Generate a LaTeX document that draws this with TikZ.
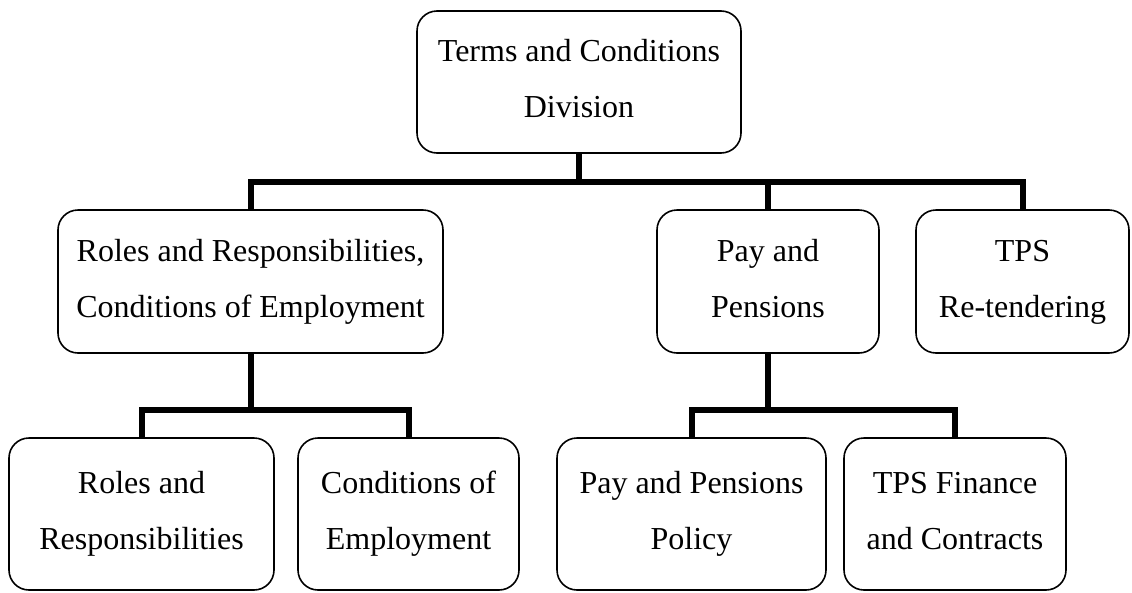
\documentclass[tikz,border=0pt]{standalone}
\usepackage{fontspec}
\setmainfont{Liberation Serif}
\usetikzlibrary{calc}

\begin{document}
\begin{tikzpicture}[x=1pt,y=-1pt,
  unit/.style={draw,rounded corners=20pt,line width=1.6pt,inner sep=0pt,align=center,
    text height=78pt,text depth=7pt,font=\fontsize{32}{56}\selectfont},
  link/.style={line width=6pt}]
\useasboundingbox (0,0) rectangle (1132,592);
% top
\node[unit,minimum width=324,minimum height=142] (T) at (579,82) {Terms and Conditions\\Division};
% second row
\node[unit,minimum width=385,minimum height=143] (A) at (250.5,281.5) {Roles and Responsibilities,\\Conditions of Employment};
\node[unit,minimum width=222,minimum height=143] (B) at (768,281.5) {Pay and\\Pensions};
\node[unit,minimum width=213,minimum height=143] (C) at (1022.5,281.5) {TPS\\Re-tendering};
% third row
\node[unit,minimum width=265,minimum height=152] (D1) at (141.5,514) {Roles and\\Responsibilities};
\node[unit,minimum width=221,minimum height=152] (D2) at (408.5,514) {Conditions of\\Employment};
\node[unit,minimum width=269,minimum height=152] (D3) at (691.5,514) {Pay and Pensions\\Policy};
\node[unit,minimum width=222,minimum height=152] (D4) at (955,514) {TPS Finance\\and Contracts};
\coordinate (bus1) at (579,182);
\coordinate (bus2) at (250.5,410);
\coordinate (bus3) at (768,410);
\draw[link] (T.south) -- (bus1);
\draw[link] (A.north) |- (bus1) -| (C.north);
\draw[link] (bus1) -| (B.north);
\draw[link] (A.south) -- (bus2);
\draw[link] (D1.north) |- (bus2) -| (D2.north);
\draw[link] (B.south) -- (bus3);
\draw[link] (D3.north) |- (bus3) -| (D4.north);
\end{tikzpicture}
\end{document}
